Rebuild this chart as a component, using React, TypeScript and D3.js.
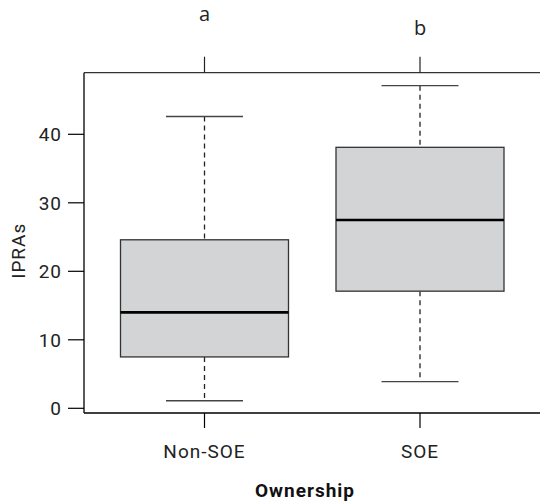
import React from "react";
import * as d3 from "d3";

const categories = ["Non-SOE", "SOE"];
const letters = ["a", "b"];
const whiskerLow = [1.1, 3.9];
const q1 = [7.5, 17.1];
const median = [14.0, 27.5];
const q3 = [24.6, 38.1];
const whiskerHigh = [42.6, 47.1];
const yTicks = [0, 10, 20, 30, 40];

const W = 540;
const H = 504;

export default function App() {
  const y = d3.scaleLinear().domain([0, 40]).range([408.3, 134.3]);
  const x = d3.scaleLinear().domain([1, 2]).range([204.5, 420]);
  const frameTop = 72.7;
  const frameBottom = 413;
  const frameLeft = 84;
  const frameRight = 545;
  const boxHalf = 84;
  const capHalf = 38.5;
  const font = "Roboto, 'DejaVu Sans', sans-serif";

  return (
    <svg
      width={W}
      height={H}
      style={{ position: "absolute", left: 0, top: 0 }}
      fontFamily={font}
    >
      <rect x={0} y={0} width={W} height={H} fill="#fff" />
      {/* frame */}
      <line x1={frameLeft} x2={frameRight} y1={frameTop} y2={frameTop} stroke="#333" strokeWidth={1.3} />
      <line x1={frameLeft} x2={frameRight} y1={frameBottom} y2={frameBottom} stroke="#000" strokeWidth={1.3} />
      <line x1={frameLeft} x2={frameLeft} y1={frameTop} y2={frameBottom} stroke="#000" strokeWidth={1.3} />

      {/* y axis */}
      {yTicks.map((t) => (
        <g key={t}>
          <line x1={68} x2={frameLeft} y1={y(t)} y2={y(t)} stroke="#000" strokeWidth={1.2} />
          <text x={62} y={y(t)} dy="0.36em" textAnchor="end" fontSize={19} letterSpacing={1} fill="#222">
            {t}
          </text>
        </g>
      ))}
      <text
        transform={`translate(25,${y(23)}) rotate(-90)`}
        textAnchor="middle"
        fontSize={19}
        letterSpacing={1}
        fill="#222"
      >
        IPRAs
      </text>

      {/* boxes */}
      {categories.map((c, i) => {
        const cx = x(i + 1);
        return (
          <g key={c}>
            <line x1={cx} x2={cx} y1={y(whiskerHigh[i])} y2={y(q3[i])} stroke="#222" strokeWidth={1.3} strokeDasharray="5,4" />
            <line x1={cx} x2={cx} y1={y(q1[i])} y2={y(whiskerLow[i])} stroke="#222" strokeWidth={1.3} strokeDasharray="5,4" />
            <line x1={cx - capHalf} x2={cx + capHalf} y1={y(whiskerHigh[i])} y2={y(whiskerHigh[i])} stroke="#444" strokeWidth={1.3} />
            <line x1={cx - capHalf} x2={cx + capHalf} y1={y(whiskerLow[i])} y2={y(whiskerLow[i])} stroke="#444" strokeWidth={1.3} />
            <rect
              x={cx - boxHalf}
              y={y(q3[i])}
              width={boxHalf * 2}
              height={y(q1[i]) - y(q3[i])}
              fill="#d3d4d6"
              stroke="#333"
              strokeWidth={1.3}
            />
            <line x1={cx - boxHalf} x2={cx + boxHalf} y1={y(median[i])} y2={y(median[i])} stroke="#000" strokeWidth={2.6} />
            {/* bottom tick + label */}
            <line x1={cx} x2={cx} y1={frameBottom} y2={428} stroke="#000" strokeWidth={1.2} />
            <text x={cx} y={458} textAnchor="middle" fontSize={19} letterSpacing={1} fill="#222">
              {c}
            </text>
            {/* top tick + letter */}
            <line x1={cx} x2={cx} y1={56.7} y2={frameTop} stroke="#222" strokeWidth={1.2} />
            <text
              x={cx}
              y={i === 0 ? 20.5 : 35}
              textAnchor="middle"
              fontSize={20}
              fontFamily="'Open Sans', sans-serif"
              fill="#222"
            >
              {letters[i]}
            </text>
          </g>
        );
      })}

      <text x={305} y={497} textAnchor="middle" fontSize={19} letterSpacing={1} fontWeight="bold" fill="#111">
        Ownership
      </text>
    </svg>
  );
}
